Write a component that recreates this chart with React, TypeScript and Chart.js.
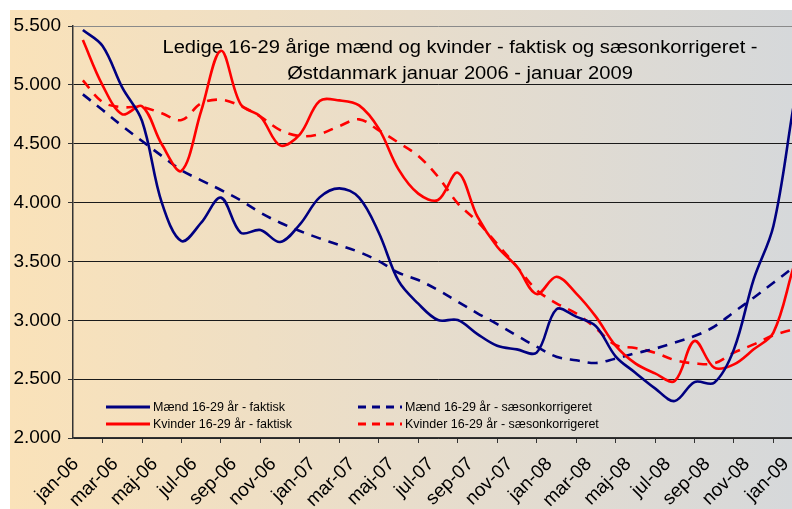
import React, { useEffect, useRef } from 'react';
import { Chart, registerables } from 'chart.js';

Chart.register(...registerables);

const categories = [
  'jan-06', 'feb-06', 'mar-06', 'apr-06', 'maj-06', 'jun-06', 'jul-06', 'aug-06', 'sep-06', 'okt-06', 'nov-06', 'dec-06',
  'jan-07', 'feb-07', 'mar-07', 'apr-07', 'maj-07', 'jun-07', 'jul-07', 'aug-07', 'sep-07', 'okt-07', 'nov-07', 'dec-07',
  'jan-08', 'feb-08', 'mar-08', 'apr-08', 'maj-08', 'jun-08', 'jul-08', 'aug-08', 'sep-08', 'okt-08', 'nov-08', 'dec-08',
  'jan-09',
];

const maendFaktisk = [
  5466, 5330, 4976, 4693, 3999, 3673, 3829, 4042, 3744, 3767, 3665, 3815,
  4044, 4121, 4042, 3744, 3334, 3141, 3002, 3002, 2883, 2784, 2753, 2725,
  3093, 3031, 2951, 2694, 2555, 2422, 2314, 2475, 2470, 2753, 3348, 3801,
  4800,
];

const kvinderFaktisk = [
  5381, 4996, 4750, 4818, 4495, 4270, 4780, 5290, 4834, 4730, 4486, 4580,
  4863, 4868, 4826, 4628, 4282, 4076, 4022, 4254, 3880, 3625, 3455, 3223,
  3370, 3229, 3031, 2785, 2634, 2549, 2484, 2824, 2597, 2625, 2753, 2895,
  3440,
];

const maendSaeson = [
  4919, 4786, 4650, 4523, 4396, 4274, 4189, 4107, 4019, 3914, 3829, 3758,
  3696, 3639, 3580, 3503, 3404, 3342, 3257, 3158, 3059, 2968, 2869, 2776,
  2691, 2660, 2637, 2675, 2719, 2759, 2810, 2866, 2946, 3070, 3192, 3319,
  3447,
];

const kvinderSaeson = [
  5038, 4854, 4810, 4812, 4758, 4701, 4843, 4874, 4820, 4730, 4616, 4565,
  4582, 4650, 4707, 4614, 4509, 4396, 4220, 3994, 3838, 3648, 3455, 3257,
  3144, 3059, 2932, 2790, 2764, 2725, 2662, 2634, 2634, 2725, 2795, 2872,
  2923,
];

const seriesNames = [
  'Mænd 16-29 år - faktisk',
  'Kvinder 16-29 år - faktisk',
  'Mænd 16-29 år - sæsonkorrigeret',
  'Kvinder 16-29 år - sæsonkorrigeret',
];

const titleLines = [
  'Ledige 16-29 årige mænd og kvinder - faktisk og sæsonkorrigeret -',
  'Østdanmark januar 2006 - januar 2009',
];

const yMin = 2000;
const yMax = 5500;
const yStep = 500;

const BLUE = '#000080';
const RED = '#FF0000';
const FONT = '"Liberation Sans", Arial, sans-serif';
const DASH = [10, 8];

const formatThousands = (v: number) =>
  `${Math.floor(v / 1000)}.${String(Math.round(v % 1000)).padStart(3, '0')}`;

const overlayPlugin = {
  id: 'overlayTitleLegend',
  beforeDatasetsDraw(chart: any) {
    const ctx = chart.ctx;
    const area = chart.chartArea;
    ctx.save();
    ctx.fillStyle = '#000';
    ctx.font = `17.5px ${FONT}`;
    ctx.textAlign = 'center';
    ctx.textBaseline = 'alphabetic';
    const cx = area.left + 387;
    titleLines.forEach((t, i) => {
      ctx.save();
      ctx.translate(cx, area.top + 27 + i * 26);
      ctx.scale(1.15, 1);
      ctx.fillText(t, 0, 0);
      ctx.restore();
    });
    ctx.restore();
  },
  afterDraw(chart: any) {
    const ctx = chart.ctx;
    const area = chart.chartArea;
    const ds = chart.data.datasets;
    const cols = [area.left + 33, area.left + 285];
    const rows = [area.bottom - 31, area.bottom - 14];
    ctx.save();
    ctx.font = `12.5px ${FONT}`;
    ctx.textBaseline = 'middle';
    ctx.textAlign = 'left';
    ds.forEach((d: any, i: number) => {
      const col = Math.floor(i / 2);
      const row = i % 2;
      const x = cols[col];
      const y = rows[row];
      ctx.beginPath();
      ctx.strokeStyle = d.borderColor;
      ctx.lineWidth = 3;
      ctx.setLineDash(d.borderDash && d.borderDash.length ? [8, 6] : []);
      ctx.moveTo(x, y);
      ctx.lineTo(x + 44, y);
      ctx.stroke();
      ctx.setLineDash([]);
      ctx.fillStyle = '#000';
      ctx.fillText(d.label, x + 47, y + 1);
    });
    ctx.restore();
  },
};

export default function App() {
  const canvasRef = useRef<HTMLCanvasElement | null>(null);

  useEffect(() => {
    const canvas = canvasRef.current;
    if (!canvas) return;
    Chart.defaults.font.family = FONT;
    const chart = new Chart(canvas, {
      type: 'line',
      data: {
        labels: categories,
        datasets: [
          {
            label: seriesNames[0],
            data: maendFaktisk,
            borderColor: BLUE,
            backgroundColor: BLUE,
            borderWidth: 2.6,
            pointRadius: 0,
            tension: 0.35,
            fill: false,
          },
          {
            label: seriesNames[1],
            data: kvinderFaktisk,
            borderColor: RED,
            backgroundColor: RED,
            borderWidth: 2.6,
            pointRadius: 0,
            tension: 0.35,
            fill: false,
          },
          {
            label: seriesNames[2],
            data: maendSaeson,
            borderColor: BLUE,
            backgroundColor: BLUE,
            borderWidth: 2.6,
            borderDash: DASH,
            pointRadius: 0,
            tension: 0.35,
            fill: false,
          },
          {
            label: seriesNames[3],
            data: kvinderSaeson,
            borderColor: RED,
            backgroundColor: RED,
            borderWidth: 2.6,
            borderDash: DASH,
            pointRadius: 0,
            tension: 0.35,
            fill: false,
          },
        ],
      },
      options: {
        responsive: false,
        animation: false,
        devicePixelRatio: 1,
        layout: { padding: { top: 16, left: 0, right: 0, bottom: 0 } },
        plugins: {
          legend: { display: false },
          title: { display: false },
          tooltip: { enabled: false },
        },
        scales: {
          x: {
            type: 'category',
            offset: true,
            grid: {
              offset: true,
              drawOnChartArea: false,
              tickLength: 5,
              color: '#333',
              lineWidth: 1,
            },
            border: { display: true, color: '#333', width: 1.5 },
            ticks: {
              autoSkip: false,
              maxRotation: 45,
              minRotation: 45,
              padding: 10,
              labelOffset: -7,
              color: '#000',
              font: { size: 19, family: FONT },
              callback: function (this: any, value: any, index: number) {
                return index % 2 === 0 ? categories[index] : null;
              },
            },
            afterFit: (scale: any) => {
              scale.height = 71;
              scale.paddingLeft = 0;
              scale.paddingRight = 0;
            },
          },
          y: {
            min: yMin,
            max: yMax,
            grid: {
              color: (c: any) => (c.tick && c.tick.value === yMax ? '#8a8a8a' : '#1a1a1a'),
              lineWidth: 1,
              tickLength: 5,
              tickColor: '#333',
            },
            border: { display: true, color: '#333', width: 1.5 },
            ticks: {
              stepSize: yStep,
              padding: 7,
              color: '#000',
              font: { size: 19, family: FONT },
              callback: (v: any) => formatThousands(Number(v)),
            },
            afterFit: (scale: any) => {
              scale.width = 63;
              scale.paddingTop = 0;
              scale.paddingBottom = 0;
            },
          },
        },
      },
      plugins: [overlayPlugin],
    });
    return () => chart.destroy();
  }, []);

  return (
    <div
      style={{
        position: 'absolute',
        left: 0,
        top: 0,
        width: 792,
        height: 509,
        overflow: 'hidden',
        background: '#ffffff',
      }}
    >
      <div
        style={{
          position: 'absolute',
          left: 10,
          top: 10,
          width: 800,
          height: 499,
          background: 'linear-gradient(to right, #FAE2B9 0%, #E8DDCB 50%, #D5D8DB 100%)',
        }}
      >
        <canvas ref={canvasRef} width={793} height={499} style={{ display: 'block' }} />
      </div>
    </div>
  );
}
